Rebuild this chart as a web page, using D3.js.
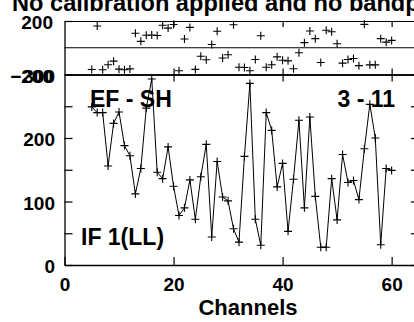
<!DOCTYPE html>
<html><head><meta charset="utf-8">
<script src="https://cdn.jsdelivr.net/npm/d3@7"></script>
<style>
html,body{margin:0;padding:0;background:#fff;overflow:hidden;}
svg{display:block;font-family:"Liberation Sans",Arial,Helvetica,sans-serif;font-weight:bold;}
</style></head>
<body>
<svg id="chart" width="414" height="322"></svg>
<script>
const titleText = "No calibration applied and no bandpass applied";
const baselineLabel = "EF - SH";
const scanLabel = "3 - 11";
const ifLabel = "IF 1(LL)";
const xLabel = "Channels";
const channels = [5,6,7,8,9,10,11,12,13,14,15,16,17,18,19,20,21,22,23,24,25,26,27,28,29,30,31,32,33,34,35,36,37,38,39,40,41,42,43,44,45,46,47,48,49,50,51,52,53,54,55,56,57,58,59,60];
const amplitude = [249,240,240,156,223,241,188,172,112,152,247,293,146,136,186,124,78,90,134,72,139,190,44,163,107,101,57,36,171,286,72,31,240,212,123,160,53,135,228,90,233,108,28,28,136,71,174,130,133,103,183,253,200,32,152,149];
const phase = [-163,163,-165,-127,-100,-160,-165,-158,108,48,93,95,92,168,147,174,-172,65,152,-162,-63,-90,24,123,-77,-52,172,-146,-148,-172,-88,90,-146,-127,-68,-94,-98,-157,-37,38,125,68,-110,131,120,30,-115,-88,-80,-134,175,-128,-128,68,42,55];
const xTicks = [0,20,40,60];
const ampTicks = [0,50,100,150,200,250,300];
const ampLabels = [0,100,200,300];
const phaseLabels = [-200,200];

const svg = d3.select("#chart");
const x = d3.scaleLinear().domain([0,65]).range([64.5,418.9]);
const yA = d3.scaleLinear().domain([0,300]).range([265,74.5]);
const yP = d3.scaleLinear().domain([-200,200]).range([74.5,21]);

function styleAxis(g){
  g.selectAll("path.domain").attr("stroke","#000").attr("stroke-width",1.3);
  g.selectAll(".tick line").attr("stroke","#000").attr("stroke-width",1.2);
  g.selectAll("text").attr("fill","#000").style("font-family",'"Liberation Sans",Arial,sans-serif').style("font-weight","bold");
}

// ---- Lower (amplitude) panel ----
const gBot = svg.append("g").attr("transform",`translate(0,${yA(0)})`)
  .call(d3.axisBottom(x).tickValues(xTicks).tickSize(-8).tickSizeOuter(0).tickPadding(13).tickFormat(d3.format("d")));
styleAxis(gBot);
gBot.selectAll("text").style("font-size","19px");

const gTopA = svg.append("g").attr("transform",`translate(0,${yA(300)})`)
  .call(d3.axisTop(x).tickValues([20,40,60]).tickSize(-7).tickSizeOuter(0).tickFormat(""));
styleAxis(gTopA);

const gLeftA = svg.append("g").attr("transform",`translate(${x(0)},0)`)
  .call(d3.axisLeft(yA).tickValues(ampTicks).tickSize(-8).tickSizeOuter(0).tickPadding(9.5)
    .tickFormat(d => ampLabels.includes(d) ? d : ""));
styleAxis(gLeftA);
gLeftA.selectAll("text").style("font-size","19px").attr("dy","0.42em");

const gRightA = svg.append("g").attr("transform",`translate(${x(65)},0)`)
  .call(d3.axisRight(yA).tickValues(ampTicks).tickSize(-8).tickSizeOuter(0).tickFormat(""));
styleAxis(gRightA);

// ---- Upper (phase) panel ----
const gPB = svg.append("g").attr("transform",`translate(0,${yP(-200)})`)
  .call(d3.axisBottom(x).tickValues([20,40,60]).tickSize(-6).tickSizeOuter(0).tickFormat(""));
styleAxis(gPB);
const gPT = svg.append("g").attr("transform",`translate(0,${yP(200)})`)
  .call(d3.axisTop(x).tickValues([20,40,60]).tickSize(-6).tickSizeOuter(0).tickFormat(""));
styleAxis(gPT);
gPT.select("path.domain").attr("stroke-width",1);
const gPL = svg.append("g").attr("transform",`translate(${x(0)},0)`)
  .call(d3.axisLeft(yP).tickValues(phaseLabels).tickSize(-8).tickSizeOuter(0).tickPadding(11.5).tickFormat(d3.format("d")));
styleAxis(gPL);
gPL.selectAll("text").style("font-size","19px").attr("dy","0.42em");
// zero line
svg.append("line").attr("x1",x(0)).attr("x2",x(65)).attr("y1",yP(0)).attr("y2",yP(0))
  .attr("stroke","#000").attr("stroke-width",1.1);

// ---- data ----
const plus = d => `M-4,0H4M0,-4V4`;
svg.append("path").datum(channels.map((c,i)=>[c,amplitude[i]]))
  .attr("fill","none").attr("stroke","#000").attr("stroke-width",1)
  .attr("d", d3.line().x(d=>x(d[0])).y(d=>yA(d[1])));
svg.append("g").selectAll("path").data(channels.map((c,i)=>[c,amplitude[i]])).join("path")
  .attr("transform",d=>`translate(${x(d[0])},${yA(d[1])})`).attr("d",plus)
  .attr("stroke","#000").attr("stroke-width",1.1).attr("fill","none");
svg.append("g").selectAll("path").data(channels.map((c,i)=>[c,phase[i]])).join("path")
  .attr("transform",d=>`translate(${x(d[0])},${yP(d[1])})`).attr("d",plus)
  .attr("stroke","#000").attr("stroke-width",1.1).attr("fill","none");

// ---- texts ----
svg.append("text").attr("x",12).attr("y",10.5).style("font-size","23.6px").attr("fill","#000").text(titleText);
svg.append("text").attr("x",90).attr("y",107).style("font-size","23px").attr("fill","#000").text(baselineLabel);
svg.append("text").attr("x",395).attr("y",107).attr("text-anchor","end").style("font-size","23px").attr("fill","#000").text(scanLabel);
svg.append("text").attr("x",81).attr("y",245).style("font-size","23px").attr("fill","#000").text(ifLabel);
svg.append("text").attr("x",248).attr("y",315).attr("text-anchor","middle").style("font-size","22px").attr("fill","#000").text(xLabel);
</script>
</body></html>
